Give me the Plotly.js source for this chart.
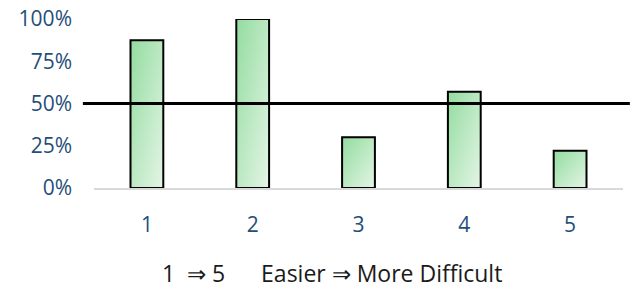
<!DOCTYPE html>
<html>
<head>
<meta charset="utf-8">
<script src="https://cdn.plot.ly/plotly-3.0.1.min.js"></script>
<style>html,body{margin:0;padding:0;background:#fff;}#chart{width:633px;height:288px;}</style>
</head>
<body>
<div id="chart"></div>
<script>
var categories = ["1", "2", "3", "4", "5"];
var values = [0.875, 1.0, 0.30, 0.57, 0.22];
var yTickVals = [0, 0.25, 0.5, 0.75, 1.0];
var yTickText = ["0%", "25%", "50%", "75%", "100%"];
var threshold = 0.5;
var caption = "1 &nbsp;\u21D2 5 &nbsp;&nbsp;&nbsp;&nbsp; Easier \u21D2 More Difficult";

var trace = {
  type: "bar",
  x: categories,
  y: values,
  width: 0.31,
  marker: {color: "#b9e6bf", line: {color: "#000000", width: 2}},
  hoverinfo: "none"
};

var layout = {
  width: 633, height: 288,
  margin: {l: 94, r: 10, t: 19, b: 100},
  paper_bgcolor: "#ffffff", plot_bgcolor: "#ffffff",
  showlegend: false,
  font: {family: "'Open Sans', Lato, sans-serif", size: 21, color: "#1f4e79"},
  xaxis: {
    type: "category",
    showgrid: false, zeroline: false,
    showline: true, linecolor: "#d9d9d9", linewidth: 2,
    ticks: "", ticklabelstandoff: 17,
    tickfont: {size: 21, color: "#1f4e79"}
  },
  yaxis: {
    range: [0, 1], showgrid: false, zeroline: false, showline: false,
    tickvals: yTickVals, ticktext: yTickText, ticks: "",
    ticklabelstandoff: 21,
    tickfont: {size: 21, color: "#1f4e79"}
  },
  shapes: [{
    type: "line", xref: "paper", yref: "y",
    x0: -0.021, x1: 1.013, y0: threshold, y1: threshold,
    line: {color: "#000000", width: 3}
  }],
  annotations: [{
    xref: "paper", yref: "paper", x: 0.45, y: -0.5,
    xanchor: "center", yanchor: "middle", showarrow: false,
    text: caption, font: {family: "'Open Sans', sans-serif", size: 23, color: "#1a1a1a"}
  }]
};

Plotly.newPlot("chart", [trace], layout, {displayModeBar: false, staticPlot: true}).then(function (gd) {
  var svg = gd.querySelector(".main-svg");
  var ns = "http://www.w3.org/2000/svg";
  var defs = svg.querySelector("defs") || svg.insertBefore(document.createElementNS(ns, "defs"), svg.firstChild);
  var g = document.createElementNS(ns, "linearGradient");
  g.setAttribute("id", "barGrad");
  g.setAttribute("x1", "0"); g.setAttribute("y1", "0");
  g.setAttribute("x2", "1"); g.setAttribute("y2", "1");
  [["0", "#93dc9f"], ["1", "#e4f5e6"]].forEach(function (s) {
    var st = document.createElementNS(ns, "stop");
    st.setAttribute("offset", s[0]);
    st.setAttribute("stop-color", s[1]);
    g.appendChild(st);
  });
  defs.appendChild(g);
  gd.querySelectorAll(".barlayer .point path").forEach(function (p) {
    p.style.fill = "url(#barGrad)";
  });
});
</script>
</body>
</html>
